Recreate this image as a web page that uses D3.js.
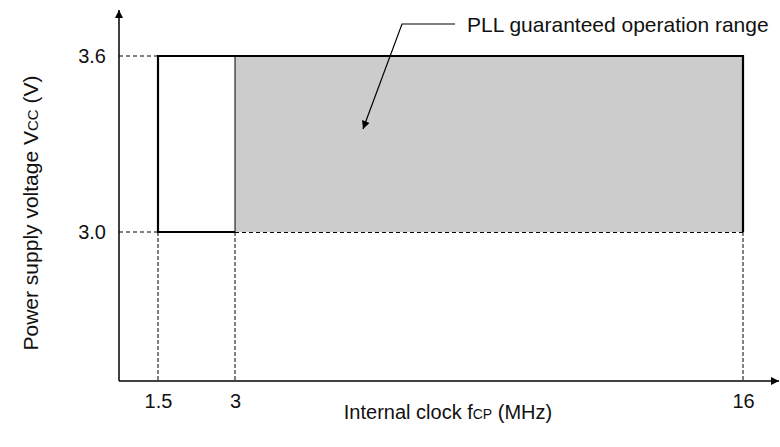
<!DOCTYPE html>
<html>
<head>
<meta charset="utf-8">
<script src="https://cdn.jsdelivr.net/npm/d3@7"></script>
<style>
  body { margin: 0; background: #fff; }
  text { font-family: "Liberation Sans", Arial, sans-serif; fill: #111; }
</style>
</head>
<body>
<div id="chart-area"></div>
<script>
// frequency values (MHz) and voltage values (V)
var freqTicks = [1.5, 3, 16];
var voltTicks = [3.0, 3.6];
var freqMin = 1.5, freqPll = 3, freqMax = 16;
var voltMin = 3.0, voltMax = 3.6;
var annotation = "PLL guaranteed operation range";

var width = 780, height = 447;

var svg = d3.select("#chart-area")
    .append("svg")
        .attr("width", width)
        .attr("height", height);

var defs = svg.append("defs");
defs.append("marker")
    .attr("id", "arrow")
    .attr("viewBox", "0 0 10 10")
    .attr("refX", 10)
    .attr("refY", 5)
    .attr("markerWidth", 12)
    .attr("markerHeight", 8)
    .attr("markerUnits", "userSpaceOnUse")
    .attr("orient", "auto")
  .append("path")
    .attr("d", "M0,0 L10,5 L0,10 Z")
    .attr("fill", "#000");

// x scale is not to scale in the original, so piecewise
var x = d3.scaleLinear()
    .domain([0, 1.5, 3, 16, 17.2])
    .range([119, 158, 235, 743, 779]);

var y = d3.scaleLinear()
    .domain([3.0, 3.6])
    .range([232, 56]);

var x0 = x(0), y0 = 381, yTop = 10;

// gray PLL area
svg.append("rect")
    .attr("x", x(freqPll))
    .attr("y", y(voltMax))
    .attr("width", x(freqMax) - x(freqPll))
    .attr("height", y(voltMin) - y(voltMax))
    .attr("fill", "#cccccc");

// dashed guide lines
var dash = "4,3";
voltTicks.forEach(function(v) {
    svg.append("line")
        .attr("x1", x0).attr("x2", x(freqMin))
        .attr("y1", y(v)).attr("y2", y(v))
        .attr("stroke", "#000").attr("stroke-width", 1)
        .attr("stroke-dasharray", dash);
});
svg.append("line")
    .attr("x1", x(freqPll)).attr("x2", x(freqMax))
    .attr("y1", y(voltMin) + 0.5).attr("y2", y(voltMin) + 0.5)
    .attr("stroke", "#000").attr("stroke-width", 1)
    .attr("stroke-dasharray", dash);
freqTicks.forEach(function(f) {
    svg.append("line")
        .attr("x1", x(f)).attr("x2", x(f))
        .attr("y1", y(voltMin)).attr("y2", y0)
        .attr("stroke", "#000").attr("stroke-width", 1)
        .attr("stroke-dasharray", "4,2");
});

// thin line at 3 MHz
svg.append("line")
    .attr("x1", x(freqPll)).attr("x2", x(freqPll))
    .attr("y1", y(voltMax)).attr("y2", y(voltMin))
    .attr("stroke", "#000").attr("stroke-width", 1);

// thick outline
var outline = d3.line()
    .x(function(d) { return x(d[0]); })
    .y(function(d) { return y(d[1]); });
svg.append("path")
    .attr("d", outline([[freqPll, voltMin], [freqMin, voltMin], [freqMin, voltMax],
                        [freqMax, voltMax], [freqMax, voltMin]]))
    .attr("fill", "none")
    .attr("stroke", "#000")
    .attr("stroke-width", 2.2);

// axes
svg.append("line")
    .attr("x1", x0).attr("y1", y0)
    .attr("x2", x0).attr("y2", yTop)
    .attr("stroke", "#000").attr("stroke-width", 1.5)
    .attr("marker-end", "url(#arrow)");
svg.append("line")
    .attr("x1", x0).attr("y1", y0)
    .attr("x2", x(17.2)).attr("y2", y0)
    .attr("stroke", "#000").attr("stroke-width", 1.5)
    .attr("marker-end", "url(#arrow)");

// tick labels
var xAxisCall = d3.axisBottom(x)
    .tickValues(freqTicks)
    .tickSize(0)
    .tickPadding(13)
    .tickFormat(function(d) { return +d; });
var xAxis = svg.append("g")
    .attr("transform", "translate(0," + y0 + ")")
    .call(xAxisCall);
xAxis.select(".domain").remove();
xAxis.selectAll("text")
    .attr("font-size", "20px")
    .attr("font-family", "Liberation Sans, Arial, sans-serif")
    .attr("fill", "#111");

var yAxisCall = d3.axisLeft(y)
    .tickValues(voltTicks)
    .tickSize(0)
    .tickPadding(13)
    .tickFormat(d3.format(".1f"));
var yAxis = svg.append("g")
    .attr("transform", "translate(" + x0 + ",0)")
    .call(yAxisCall);
yAxis.select(".domain").remove();
yAxis.selectAll("text")
    .attr("font-size", "20px")
    .attr("font-family", "Liberation Sans, Arial, sans-serif")
    .attr("fill", "#111");

// axis titles
var xt = svg.append("text")
    .attr("x", 448)
    .attr("y", 419)
    .attr("font-size", "20px")
    .attr("text-anchor", "middle");
xt.append("tspan").text("Internal clock f");
xt.append("tspan").attr("font-size", "14px").text("CP");
xt.append("tspan").text(" (MHz)");

var yt = svg.append("text")
    .attr("transform", "translate(38,213) rotate(-90)")
    .attr("font-size", "21px")
    .attr("text-anchor", "middle");
yt.append("tspan").text("Power supply voltage V");
yt.append("tspan").attr("font-size", "15px").text("CC");
yt.append("tspan").text(" (V)");

// annotation with leader
svg.append("text")
    .attr("x", 467)
    .attr("y", 32)
    .attr("font-size", "21px")
    .text(annotation);

svg.append("path")
    .attr("d", "M455,24 L402,24 L363,129")
    .attr("fill", "none")
    .attr("stroke", "#000")
    .attr("stroke-width", 1.2)
    .attr("marker-end", "url(#arrow)");
</script>
</body>
</html>
